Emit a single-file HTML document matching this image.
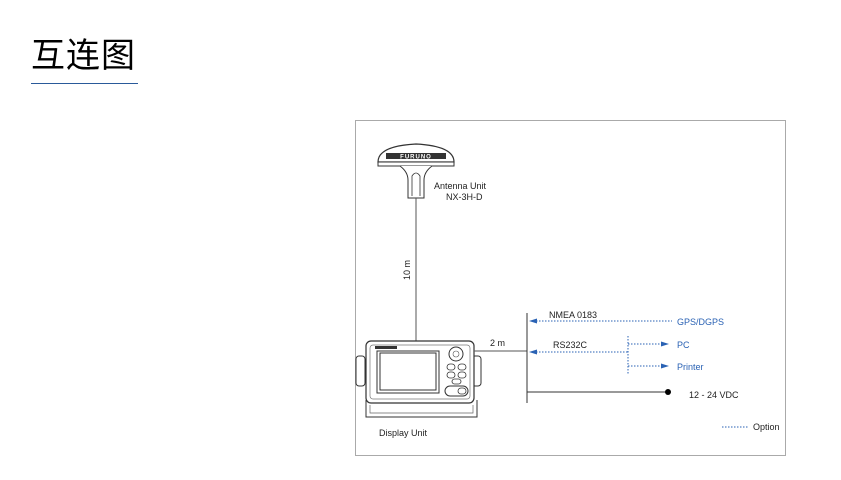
<!DOCTYPE html>
<html><head><meta charset="utf-8"><style>
body{margin:0;width:841px;height:480px;background:#fff;position:relative;overflow:hidden;font-family:"Liberation Sans","Noto Sans CJK SC",sans-serif}
.t{position:absolute;left:31px;top:28px;font-size:34px;color:#000;letter-spacing:1px;font-family:"Liberation Sans","Noto Sans CJK SC",sans-serif}
.u{position:absolute;left:31px;top:83px;width:107px;height:1px;background:#2a5a9a}
</style></head><body>
<div class="t">互连图</div><div class="u"></div>
<svg width="841" height="480" style="position:absolute;left:0;top:0" font-family="Liberation Sans, sans-serif">
<rect x="355.5" y="120.5" width="430" height="335" fill="none" stroke="#aaa"/>
<path d="M378 162 Q378 146 416 144 Q454 146 454 162 Z" fill="#fff" stroke="#333" stroke-width="1.2"/>
<rect x="378" y="162" width="76" height="4" fill="#fff" stroke="#333"/>
<rect x="386" y="153" width="60" height="6" fill="#333"/>
<text x="416" y="158.5" font-size="6" fill="#fff" text-anchor="middle" font-weight="bold" letter-spacing="1">FURUNO</text>
<path d="M400 166 Q408 172 408 180 L408 198 L424 198 L424 180 Q424 172 432 166" fill="#fff" stroke="#333"/>
<path d="M412 196 L412 176 Q416 170 420 176 L420 196" fill="none" stroke="#333" stroke-width="0.8"/>
<text x="434" y="189" font-size="9" fill="#222">Antenna Unit</text>
<text x="446" y="200" font-size="9" fill="#222">NX-3H-D</text>
<line x1="416" y1="198" x2="416" y2="341" stroke="#555"/>
<text x="410" y="270" font-size="9" fill="#222" transform="rotate(-90 410 270)" text-anchor="middle">10 m</text>
<rect x="356" y="356" width="9" height="30" rx="3" fill="#fff" stroke="#333"/>
<rect x="472" y="356" width="9" height="30" rx="3" fill="#fff" stroke="#333"/>
<path d="M366 400 L366 417 L477 417 L477 400" fill="none" stroke="#333"/>
<path d="M370 405 L370 413 L473 413 L473 405" fill="none" stroke="#666" stroke-width="0.7"/>
<rect x="366" y="341" width="108" height="62" rx="5" fill="#fff" stroke="#333" stroke-width="1.2"/>
<rect x="370" y="345" width="100" height="54" rx="3" fill="none" stroke="#777" stroke-width="0.7"/>
<rect x="375" y="346" width="22" height="3" fill="#333"/>
<rect x="377" y="351" width="62" height="42" fill="none" stroke="#333"/>
<rect x="380" y="353" width="56" height="37" fill="#fff" stroke="#333"/>
<circle cx="456" cy="354" r="7" fill="#fff" stroke="#333"/>
<circle cx="456" cy="354" r="3" fill="none" stroke="#555" stroke-width="0.6"/>
<rect x="447" y="364" width="8" height="6" rx="3" fill="#fff" stroke="#333" stroke-width="0.8"/>
<rect x="458" y="364" width="8" height="6" rx="3" fill="#fff" stroke="#333" stroke-width="0.8"/>
<rect x="447" y="372" width="8" height="6" rx="3" fill="#fff" stroke="#333" stroke-width="0.8"/>
<rect x="458" y="372" width="8" height="6" rx="3" fill="#fff" stroke="#333" stroke-width="0.8"/>
<rect x="452" y="379" width="9" height="5" rx="2.5" fill="#fff" stroke="#333" stroke-width="0.8"/>
<rect x="445" y="386" width="23" height="10" rx="5" fill="#fff" stroke="#333"/>
<rect x="458" y="388" width="8" height="6" rx="3" fill="#fff" stroke="#333" stroke-width="0.8"/>
<text x="379" y="436" font-size="9" fill="#222">Display Unit</text>
<line x1="474" y1="351" x2="527" y2="351" stroke="#555"/>
<text x="490" y="346" font-size="9" fill="#222">2 m</text>
<line x1="527" y1="313" x2="527" y2="403" stroke="#333"/>
<line x1="527" y1="392" x2="667" y2="392" stroke="#333"/>
<circle cx="668" cy="392" r="3" fill="#000"/>
<text x="689" y="398" font-size="9" fill="#222">12 - 24 VDC</text>
<g stroke="#2a62b4" stroke-dasharray="1.5 1.5" fill="none">
<line x1="536" y1="321" x2="672" y2="321"/>
<line x1="536" y1="352" x2="628" y2="352"/>
<line x1="628" y1="336" x2="628" y2="375"/>
<line x1="628" y1="344" x2="662" y2="344"/>
<line x1="628" y1="366" x2="662" y2="366"/>
<line x1="722" y1="427" x2="748" y2="427"/>
</g>
<g fill="#2a62b4">
<path d="M529 321 L537 318.5 L537 323.5 Z"/>
<path d="M529 352 L537 349.5 L537 354.5 Z"/>
<path d="M669 344 L661 341.5 L661 346.5 Z"/>
<path d="M669 366 L661 363.5 L661 368.5 Z"/>
</g>
<text x="549" y="318" font-size="9" fill="#222">NMEA 0183</text>
<text x="553" y="348" font-size="9" fill="#222">RS232C</text>
<g font-size="9" fill="#2a62b4">
<text x="677" y="325">GPS/DGPS</text>
<text x="677" y="348">PC</text>
<text x="677" y="370">Printer</text>
</g>
<text x="753" y="430" font-size="9" fill="#222">Option</text>
</svg>
</body></html>
